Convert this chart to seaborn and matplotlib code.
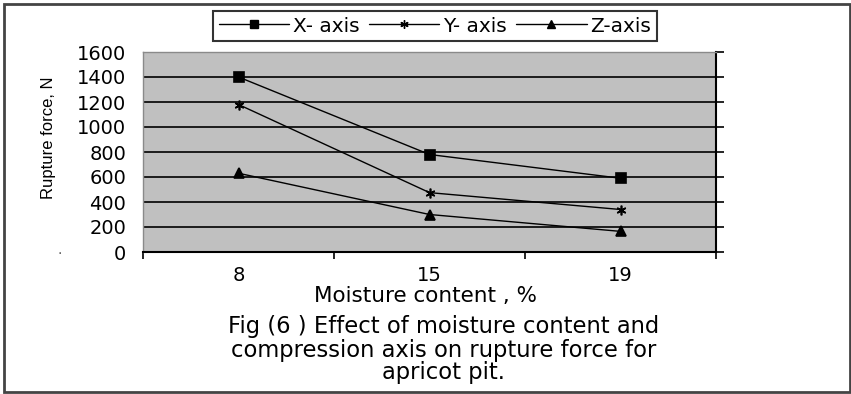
import matplotlib
matplotlib.use("Agg")
import matplotlib.pyplot as plt
from matplotlib.patches import Rectangle
from matplotlib.lines import Line2D
import seaborn as sns
import pandas as pd

# Moisture content levels (%) and rupture force (N) for each compression axis
moisture = ["8", "15", "19"]
x_axis_force = [1400, 780, 590]
y_axis_force = [1180, 475, 340]
z_axis_force = [630, 300, 165]
series_names = ["X- axis", "Y- axis", "Z-axis"]
y_ticks = [0, 200, 400, 600, 800, 1000, 1200, 1400, 1600]
caption_lines = [
    "Fig (6 ) Effect of moisture content and",
    "compression axis on rupture force for",
    "apricot pit.",
]

sns.set_theme(style="white")
plt.rcParams["font.family"] = ["DejaVu Sans"]
plt.rcParams["text.color"] = "black"
plt.rcParams["xtick.color"] = "black"
plt.rcParams["ytick.color"] = "black"
plt.rcParams["axes.labelcolor"] = "black"

fig = plt.figure(figsize=(8.51, 3.94), dpi=100)
ax = fig.add_axes([143 / 851, 1 - 252 / 394, (716 - 143) / 851, 200 / 394])
ax.set_facecolor("#c0c0c0")

positions = list(range(len(moisture)))
frames = []
for name, vals in zip(series_names, [x_axis_force, y_axis_force, z_axis_force]):
    frames.append(pd.DataFrame({"pos": positions, "force": vals, "series": name}))
df = pd.concat(frames, ignore_index=True)

markers = {"X- axis": "s", "Y- axis": (6, 2, 0), "Z-axis": "^"}
sizes = {"X- axis": 6.5, "Y- axis": 7, "Z-axis": 6.5}
for name in series_names:
    sub = df[df["series"] == name]
    sns.lineplot(data=sub, x="pos", y="force", ax=ax, color="black",
                 marker=markers[name], markersize=sizes[name],
                 markeredgecolor="black", markerfacecolor="black",
                 markeredgewidth=1.2, linewidth=1.0, sort=False, label=name,
                 legend=False)

ax.set_xlim(-0.5, len(moisture) - 0.5)
ax.set_ylim(0, 1600)
ax.set_yticks(y_ticks)
ax.set_yticklabels([str(v) for v in y_ticks], fontsize=14)
ax.set_xticks(positions)
ax.set_xticklabels(moisture, fontsize=14)
ax.set_xticks([p - 0.5 for p in positions] + [positions[-1] + 0.5], minor=True)
ax.set_xlabel("")
ax.set_ylabel("")

ax.grid(axis="y", color="black", linewidth=1.2)
ax.set_axisbelow(True)
ax.tick_params(axis="y", left=False, right=True, labelleft=True, labelright=False,
               length=6, width=1.2, color="black", pad=6, direction="out")
ax.tick_params(axis="x", which="major", length=0, pad=10)
ax.tick_params(axis="x", which="minor", bottom=True, length=5, width=1.2, color="black")

for side in ["left", "top"]:
    ax.spines[side].set_color("#8a8a8a")
    ax.spines[side].set_linewidth(1.0)
for side in ["right", "bottom"]:
    ax.spines[side].set_color("black")
    ax.spines[side].set_linewidth(1.5)

# Axis titles and caption
fig.text(48 / 851, 1 - 138 / 394, "Rupture force, N", rotation=90, ha="center",
         va="center", fontsize=12, family=["Liberation Sans"])
fig.text(60 / 851, 1 - 250 / 394, ".", ha="center", va="center", fontsize=10,
         color="#555555")
fig.text(425 / 851, 1 - 296 / 394, "Moisture content , %", ha="center",
         va="center", fontsize=15.5)
for line, y_px in zip(caption_lines, [327, 350, 372]):
    fig.text(444 / 851, 1 - y_px / 394, line, ha="center", va="center",
             fontsize=16.3)

# Legend above the plot area
handles = [Line2D([0], [0], color="black", linewidth=1.0, marker=markers[n],
                  markersize=sizes[n] - 1, markerfacecolor="black",
                  markeredgecolor="black") for n in series_names]
leg = fig.legend(handles, series_names, loc="center", ncol=3,
                 bbox_to_anchor=(435 / 851, 1 - 26 / 394), frameon=True,
                 fancybox=False, edgecolor="black", fontsize=14.5,
                 handlelength=3.5, handletextpad=0.2, columnspacing=0.45,
                 borderpad=0.28, borderaxespad=0)
leg.get_frame().set_linewidth(1.5)

# Outer border of the figure
fig.patches.append(Rectangle((4 / 851, 2 / 394), 846 / 851, 388 / 394,
                             transform=fig.transFigure, fill=False,
                             edgecolor="#444444", linewidth=2))

fig.savefig("out.png", dpi=100)
